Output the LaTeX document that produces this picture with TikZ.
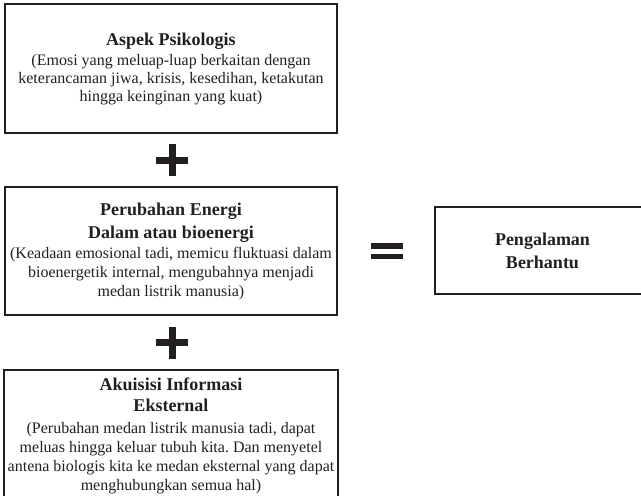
\documentclass[tikz,border=0pt]{standalone}
\usepackage{fontspec}
\setmainfont{Liberation Serif}
\frenchspacing
\definecolor{ink}{RGB}{35,31,32}
\newcommand{\plussign}[2]{\fill[ink] (#1-16,#2-3.5) rectangle (#1+16,#2+3.5); \fill[ink] (#1-3.5,#2-16) rectangle (#1+3.5,#2+16);}
\newcommand{\equalsign}[2]{\fill[ink] (#1-16,#2-8) rectangle (#1+16,#2-2.5); \fill[ink] (#1-16,#2+2.5) rectangle (#1+16,#2+8);}
\newcommand{\judul}[1]{{\fontsize{18}{19}\selectfont\bfseries #1}}
\tikzset{
  box/.style={draw=ink, line width=2pt, align=center, text=ink, minimum width=332pt,
    font=\fontsize{16}{19}\selectfont},
}

\begin{document}
\begin{tikzpicture}[x=1pt,y=-1pt]
        \useasboundingbox (0,0) rectangle (641,496);
        \clip (0,0) rectangle (641,496);
        % left column
        \node[box, minimum height=129pt] (psiko) at (171,68.5)
          {\judul{Aspek Psikologis}\\[1pt]
           (Emosi yang meluap-luap berkaitan dengan\\[-1pt]
           keterancaman jiwa, krisis, kesedihan, ketakutan\\[-1pt]
           hingga keinginan yang kuat)};
        \node[box, minimum height=128pt] (energi) at (171,251)
          {\judul{Perubahan Energi}\\[4pt]
           \judul{Dalam atau bioenergi}\\[1pt]
           (Keadaan emosional tadi, memicu fluktuasi dalam\\
           bioenergetik internal, mengubahnya menjadi\\
           medan listrik manusia)};
        \node[box, anchor=north, inner ysep=8pt] (info) at (171,369)
          {\judul{Akuisisi Informasi}\\[2pt]
           \judul{Eksternal}\\[3pt]
           (Perubahan medan listrik manusia tadi, dapat\\
           meluas hingga keluar tubuh kita. Dan menyetel\\
           antena biologis kita ke medan eksternal yang dapat\\
           menghubungkan semua hal)};
        % result
        \node[box, minimum width=215pt, minimum height=87pt] (hantu) at (542.5,250.5)
          {\judul{Pengalaman}\\[4pt]\judul{Berhantu}};
        % signs
        \plussign{172}{160}
        \plussign{172}{342.5}
        \equalsign{387}{251}
\end{tikzpicture}
\end{document}
